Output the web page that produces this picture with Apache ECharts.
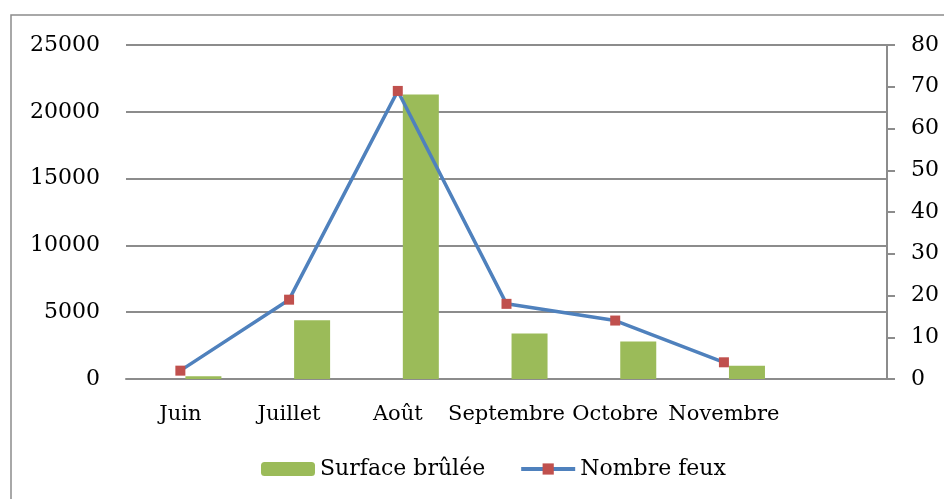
<!DOCTYPE html>
<html>
<head>
<meta charset="utf-8">
<script src="https://cdn.jsdelivr.net/npm/echarts@6/dist/echarts.min.js"></script>
<style>
  html, body { margin: 0; padding: 0; background: #fff; }
  #graph { width: 944px; height: 499px; }
</style>
</head>
<body>
<div id="graph"></div>
<script>
// Données
var mois = ['Juin', 'Juillet', 'Août', 'Septembre', 'Octobre', 'Novembre', ''];
var surfaceBrulee = [200, 4400, 21300, 3400, 2800, 1000, null];
var nombreFeux = [2, 19, 69, 18, 14, 4, null];
var vide = [null, null, null, null, null, null, null];

var police = 'DejaVu Serif';

var monGraph = echarts.init(document.getElementById('graph'));

var options = {
  animation: false,
  textStyle: { fontFamily: police },
  graphic: [
    {
      // cadre du graphique
      type: 'rect',
      shape: { x: 11, y: 15, width: 960, height: 520 },
      style: { fill: null, stroke: '#8c8c8c', lineWidth: 1.5 },
    },
  ],
  grid: { left: 126, right: 57, top: 45, bottom: 120 },
  legend: {
    data: [
      { name: 'Surface brûlée' },
      { name: 'Nombre feux', lineStyle: { width: 4, color: '#4F81BD' } },
    ],
    left: 256,
    bottom: 14,
    itemWidth: 54,
    itemHeight: 14,
    itemGap: 34,
    textStyle: { fontFamily: police, fontSize: 22, color: '#000' },
  },
  xAxis: {
    type: 'category',
    data: mois,
    axisTick: { show: false },
    axisLine: { lineStyle: { color: '#8c8c8c', width: 2 } },
    axisLabel: {
      interval: 0,
      margin: 25,
      fontFamily: police,
      fontSize: 21,
      color: '#000',
    },
  },
  yAxis: [
    {
      type: 'value',
      min: 0,
      max: 25000,
      interval: 5000,
      axisLine: { show: false },
      axisTick: { show: false },
      splitLine: { lineStyle: { color: '#8c8c8c', width: 2 } },
      axisLabel: {
        margin: 26,
        fontFamily: police,
        fontSize: 22,
        color: '#000',
        formatter: function (v) { return String(v); },
      },
    },
    {
      type: 'value',
      min: 0,
      max: 80,
      interval: 10,
      position: 'right',
      axisLine: { show: true, lineStyle: { color: '#8c8c8c', width: 2 } },
      axisTick: { show: true, length: 8, lineStyle: { color: '#8c8c8c', width: 2 } },
      splitLine: { show: false },
      axisLabel: {
        margin: 24,
        fontFamily: police,
        fontSize: 22,
        color: '#000',
      },
    },
  ],
  series: [
    {
      name: 'vide',
      type: 'bar',
      data: vide,
      barWidth: 36,
      barGap: '28%',
    },
    {
      name: 'Surface brûlée',
      type: 'bar',
      data: surfaceBrulee,
      barWidth: 36,
      barGap: '28%',
      itemStyle: { color: '#9BBB59' },
    },
    {
      name: 'Nombre feux',
      type: 'line',
      yAxisIndex: 1,
      data: nombreFeux,
      symbol: 'rect',
      symbolSize: 10,
      lineStyle: { color: '#4F81BD', width: 3.5 },
      itemStyle: { color: '#C0504D' },
    },
  ],
};

monGraph.setOption(options);
</script>
</body>
</html>
